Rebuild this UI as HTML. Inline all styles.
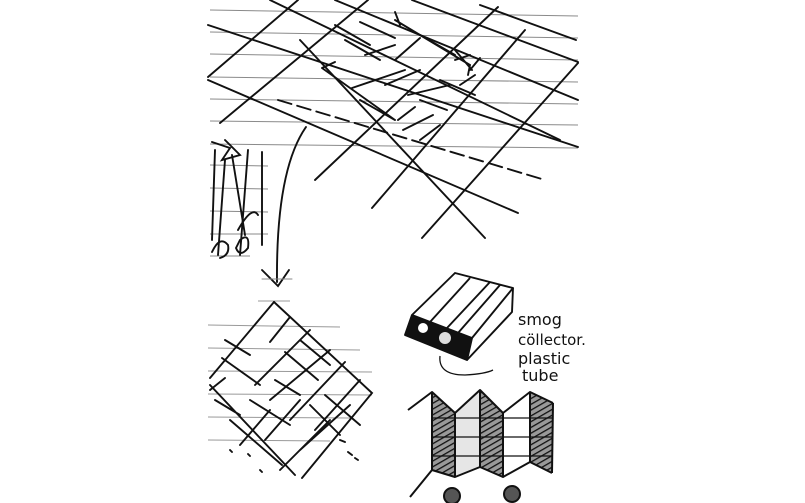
<!DOCTYPE html>
<html><head><meta charset="utf-8"><style>
html,body{margin:0;padding:0;background:#fff;}
svg{display:block}
text{font-family:"DejaVu Sans","Liberation Sans",sans-serif;fill:#111}
</style></head><body>
<svg width="805" height="503" viewBox="0 0 805 503" xmlns="http://www.w3.org/2000/svg">
<rect width="805" height="503" fill="#fff"/>
<g stroke="#8a8a8a" stroke-width="1">
<line x1="210" y1="10" x2="578" y2="16"/>
<line x1="210" y1="32" x2="578" y2="38"/>
<line x1="210" y1="54" x2="578" y2="60"/>
<line x1="210" y1="77" x2="578" y2="82"/>
<line x1="210" y1="99" x2="578" y2="104"/>
<line x1="210" y1="121" x2="578" y2="125"/>
<line x1="210" y1="144" x2="578" y2="148"/>
<line x1="210" y1="165" x2="268" y2="166"/>
<line x1="210" y1="188" x2="268" y2="189"/>
<line x1="210" y1="211" x2="268" y2="212"/>
<line x1="210" y1="234" x2="268" y2="234"/>
<line x1="210" y1="256" x2="250" y2="256"/>
</g>
<g stroke="#111" stroke-width="1.9" fill="none" stroke-linecap="round">
<line x1="208" y1="25" x2="578" y2="147"/>
<line x1="208" y1="80" x2="518" y2="213"/>
<line x1="335" y1="0" x2="578" y2="100"/>
<line x1="412" y1="0" x2="578" y2="62"/>
<line x1="270" y1="0" x2="560" y2="140"/>
<line x1="300" y1="40" x2="485" y2="238"/>
<line x1="278" y1="100" x2="545" y2="180" stroke-dasharray="14 6"/>
<line x1="220" y1="123" x2="368" y2="0"/>
<line x1="208" y1="77" x2="298" y2="0"/>
<line x1="315" y1="180" x2="498" y2="7"/>
<line x1="372" y1="208" x2="525" y2="30"/>
<line x1="422" y1="238" x2="578" y2="63"/>
<line x1="480" y1="5" x2="576" y2="40"/>
<path d="M322 68 L335 62 M322 68 L395 120 M352 88 L405 70 M345 40 L380 60 M335 25 L370 45 M360 22 L395 38 M365 55 L395 45 M395 60 L420 38 M395 12 L400 25 M395 20 L470 65 L468 75 M420 35 L455 55 M385 85 L420 70 M408 95 L450 85 M360 100 L395 120 M420 100 L447 110 M440 80 L475 95 M455 60 L470 55 M455 50 L472 70 M470 70 L480 58 M460 85 L475 75 M398 120 L415 107 M403 130 L433 115 M420 140 L440 125"/>
<path d="M212 142 L230 148 L222 160 L240 155 L225 140 M215 150 L212 240 M225 160 L218 255 M232 155 L245 235 M248 150 L240 255 M262 152 L262 245 M238 230 Q252 205 258 215 M212 252 Q220 235 228 245 Q230 255 220 258 M240 240 Q250 232 248 248 Q240 258 236 248 Z"/>
<path d="M306 127 Q276 170 277 282"/>
<path d="M262 270 L278 286 L289 270"/>
<line x1="262" y1="279" x2="292" y2="279" stroke="#888" stroke-width="1"/>
</g>
<g stroke="#999" stroke-width="1">
<line x1="208" y1="325" x2="340" y2="327"/>
<line x1="208" y1="348" x2="360" y2="350"/>
<line x1="208" y1="371" x2="372" y2="372"/>
<line x1="208" y1="394" x2="372" y2="395"/>
<line x1="208" y1="417" x2="350" y2="418"/>
<line x1="208" y1="440" x2="330" y2="441"/>
<line x1="258" y1="301" x2="290" y2="301"/>
</g>
<g stroke="#111" stroke-width="1.9" fill="none" stroke-linecap="round">
<path d="M274 302 L372 393 L302 478"/>
<path d="M274 302 L210 378"/>
<path d="M290 317 L270 342 M310 330 L255 385 M330 350 L270 400 M345 362 L290 420 M360 380 L315 430 M300 340 L330 365 M285 352 L318 380 M225 340 L250 355 M222 358 L260 385 M210 390 L225 378 M215 400 L240 415 M230 420 L282 465 M250 400 L290 425 M265 440 L300 400 M280 470 L330 420 M300 450 L350 405 M325 395 L360 425 M240 445 L270 410 M310 405 L340 435 M275 380 L300 395 M210 385 L295 475"/>
<path d="M230 450 L232 452 M248 454 L250 456 M260 470 L262 472 M340 440 L345 442 M348 452 L352 455 M355 458 L358 460"/>
</g>
<g stroke="#111" stroke-width="1.9" fill="none" stroke-linejoin="round">
<path d="M455 273 L513 288 L472 338 L412 315 Z"/>
<path d="M412 315 L405 335 L467 360 L472 338"/>
<path d="M513 288 L512 312 L467 360"/>
<path d="M470 278 L430 322 M490 282 L447 328 M500 285 L458 333"/>
</g>
<path d="M412 315 L472 338 L467 360 L405 335 Z" fill="#111"/>
<circle cx="423" cy="328" r="5" fill="#fff"/>
<circle cx="445" cy="338" r="6" fill="#ddd"/>
<path d="M440 356 Q438 375 465 375 Q485 374 493 370" stroke="#111" stroke-width="1.3" fill="none"/>
<text x="518" y="325" font-size="16">smog</text>
<text x="518" y="345" font-size="15">cöllector.</text>
<text x="518" y="364" font-size="16">plastic</text>
<text x="522" y="381" font-size="16">tube</text>
<defs>
<pattern id="h" width="5" height="5" patternUnits="userSpaceOnUse" patternTransform="rotate(60)">
<rect width="5" height="5" fill="#999"/><line x1="0" y1="0" x2="0" y2="5" stroke="#111" stroke-width="2.6"/>
</pattern>
</defs>
<path d="M432 392 L455 413 L455 477 L432 470 Z" fill="url(#h)"/>
<path d="M480 390 L503 413 L503 477 L480 467 Z" fill="url(#h)"/>
<path d="M530 392 L553 403 L552 473 L530 462 Z" fill="url(#h)"/>
<path d="M455 413 L480 390 L480 467 L455 477 Z" fill="#e6e6e6"/>
<g stroke="#111" stroke-width="2" fill="none" stroke-linejoin="round">
<path d="M408 410 L432 392 L455 413 L480 390 L503 413 L530 392 L553 403"/>
<path d="M410 497 L432 470 L455 477 L480 467 L503 477 L530 462 L552 473"/>
<line x1="432" y1="392" x2="432" y2="470"/>
<line x1="455" y1="413" x2="455" y2="477"/>
<line x1="480" y1="390" x2="480" y2="467"/>
<line x1="503" y1="413" x2="503" y2="477"/>
<line x1="530" y1="392" x2="530" y2="462"/>
<line x1="553" y1="403" x2="552" y2="473"/>
<path d="M432 418 L553 418 M432 437 L553 437 M432 456 L553 456" stroke-width="1.2"/>
<circle cx="452" cy="496" r="8" fill="#555"/>
<circle cx="512" cy="494" r="8" fill="#555"/>
</g>
</svg>
</body></html>
